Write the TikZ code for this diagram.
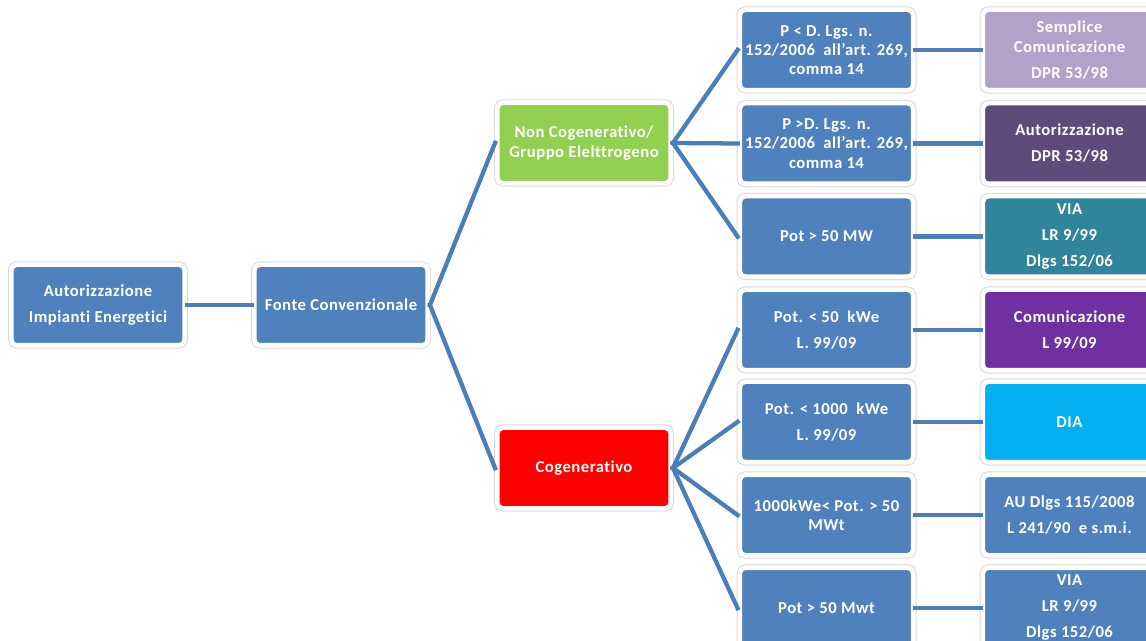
\documentclass[tikz,border=0pt]{standalone}
\usepackage{fontspec}
\setmainfont[LetterSpace=3, Ligatures=NoCommon]{Carlito}
\usepackage{tikz}
\usetikzlibrary{positioning}
\definecolor{BoxBlue}{RGB}{79,129,189}
\definecolor{LinkBlue}{RGB}{74,126,187}
\definecolor{LeafGreen}{RGB}{146,208,80}
\definecolor{Lavender}{RGB}{179,162,199}
\definecolor{Plum}{RGB}{96,74,123}
\definecolor{Teal}{RGB}{49,133,155}
\definecolor{Violet}{RGB}{112,48,160}
\definecolor{Sky}{RGB}{0,176,240}
\tikzset{
	box/.style={rounded corners=4pt, fill=#1, draw=white, line width=3.5pt,
		preaction={draw=black!15, line width=5pt},
		minimum width=130pt, minimum height=60.5pt, inner sep=2pt,
		align=center, text=white, font=\fontsize{12.5}{14.5}\selectfont\bfseries},
	box/.default=BoxBlue,
	link/.style={draw=LinkBlue, line width=3.2pt, shorten <=-1.75pt, shorten >=-1.75pt},
}
\begin{document}
\begin{tikzpicture}[x=0.75pt, y=-0.75pt]
	\useasboundingbox (0,0) rectangle (1146,641);

	\node[box] (root) at (98,305) {Autorizzazione\\[5pt]Impianti Energetici};
	\node[box] (fonte) at (341,305) {Fonte Convenzionale};
	\node[box=LeafGreen] (noncog) at (584,143) {Non Cogenerativo/\\Gruppo Elelttrogeno};
	\node[box=red] (cog) at (584,468) {Cogenerativo};

	% condizioni
	\node[box] (c1) at (826.5,50) {P < D. Lgs. n.\\152/2006 \ all’art. 269,\\comma 14};
	\node[box] (c2) at (826.5,143.5) {P >D. Lgs. n.\\152/2006 \ all’art. 269,\\comma 14};
	\node[box] (c3) at (826.5,236.5) {Pot > 50 MW};
	\node[box] (c4) at (826.5,330) {Pot. < 50 \ kWe\\[5pt]L. 99/09};
	\node[box] (c5) at (826.5,422) {Pot. < 1000 \ kWe\\[5pt]L. 99/09};
	\node[box] (c6) at (826.5,515) {1000kWe< Pot. > 50\\MWt};
	\node[box] (c7) at (826.5,608) {Pot > 50 Mwt};

	% autorizzazioni
	\node[box=Lavender] (a1) at (1069.5,50) {Semplice\\Comunicazione\\[5pt]DPR 53/98};
	\node[box=Plum] (a2) at (1069.5,143.5) {Autorizzazione\\[5pt]DPR 53/98};
	\node[box=Teal] (a3) at (1069.5,236.5) {VIA\\[5pt]LR 9/99\\[5pt]Dlgs 152/06};
	\node[box=Violet] (a4) at (1069.5,330) {Comunicazione\\[5pt]L 99/09};
	\node[box=Sky] (a5) at (1069.5,422) {DIA};
	\node[box] (a6) at (1069.5,515) {AU Dlgs 115/2008\\[5pt]L 241/90 \ e s.m.i.};
	\node[box] (a7) at (1069.5,608) {VIA\\[5pt]LR 9/99\\[5pt]Dlgs 152/06};

	\draw[link] (root.east) -- (fonte.west);
	\draw[link] (fonte.east) -- (noncog.west);
	\draw[link] (fonte.east) -- (cog.west);
	\foreach \i in {1,2,3}
		\draw[link] (noncog.east) -- (c\i.west);
	\foreach \i in {4,...,7}
		\draw[link] (cog.east) -- (c\i.west);
	\foreach \i in {1,...,7}
		\draw[link] (c\i.east) -- (a\i.west);
\end{tikzpicture}
\end{document}
